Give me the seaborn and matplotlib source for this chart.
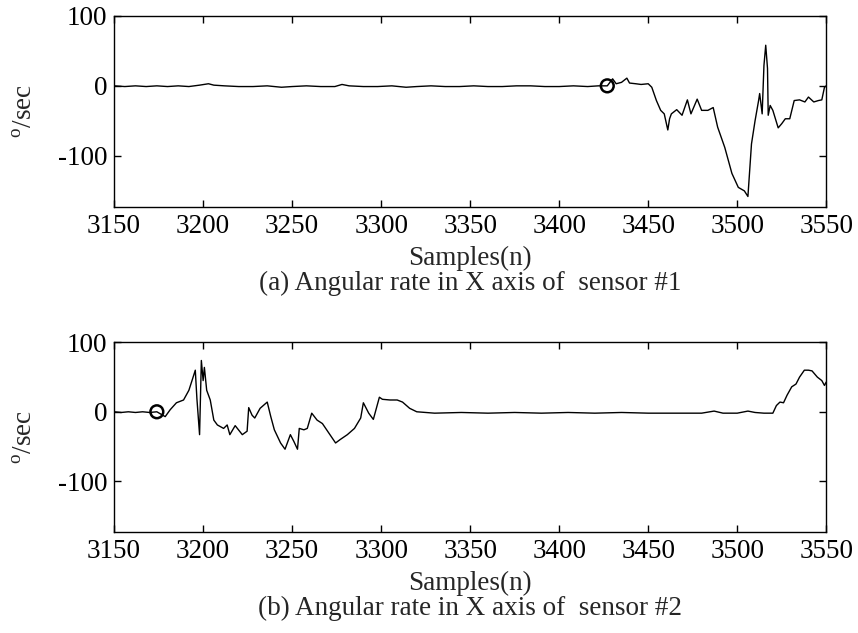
import matplotlib
matplotlib.use("Agg")
import matplotlib.pyplot as plt
import seaborn as sns
import pandas as pd

# sensor #1, angular rate X (deg/sec)
s1_samples = [3150, 3156, 3162, 3168, 3174, 3180, 3186, 3192, 3198, 3203, 3206, 3212,
              3220, 3228, 3236, 3244, 3250, 3258, 3266, 3274, 3278, 3282, 3290, 3298,
              3306, 3314, 3320, 3328, 3336, 3344, 3352, 3360, 3368, 3376, 3384, 3392,
              3400, 3408, 3416, 3422, 3427, 3430, 3432, 3435, 3438, 3439.5, 3443, 3446,
              3450, 3452, 3454.6, 3457, 3459, 3461, 3462, 3463, 3466, 3469, 3472, 3474,
              3477.5, 3480, 3483.5, 3486.5, 3489, 3493, 3497, 3500.6, 3504, 3506, 3508,
              3510, 3512, 3512.6, 3514, 3515, 3516, 3517, 3517.4, 3518.5, 3520, 3523,
              3525, 3527, 3529.5, 3532, 3535, 3538, 3540, 3543, 3545.6, 3547.5, 3549, 3550]
s1_values = [0, -1, 0, -1, 0, -1, 0, -1, 1, 3, 1, 0,
             -1, -1, 0, -2, -1, 0, -1, -1, 2, 0, -1, -1,
             0, -2, -1, 0, -1, -1, 0, -1, -1, 0, 0, -1,
             -1, 0, -1, 0, 0, 10, 3, 5, 11, 4, 3, 2,
             3, -2, -21, -35, -40, -63, -47, -40, -34, -42, -20, -40,
             -19, -35, -35, -31, -59, -88, -125, -145, -150, -158, -83,
             -50, -21, -11, -40, 29, 58, 25, -42, -28, -35, -60,
             -54, -47, -47, -21, -20, -23, -16, -23, -21, -20, -2, 0]

# sensor #2, angular rate X (deg/sec)
s2_samples = [3150, 3154, 3158, 3162, 3166, 3170, 3174, 3178.7, 3181.5, 3185, 3189, 3192,
              3194, 3195.6, 3196.5, 3198, 3199, 3200, 3200.7, 3202, 3204, 3206, 3208,
              3211.5, 3213.5, 3215, 3218, 3222, 3224.7, 3225.6, 3227.5, 3229, 3232, 3236,
              3238, 3240, 3243.5, 3246, 3249, 3251, 3253, 3254, 3256.6, 3258.5, 3261,
              3264, 3267, 3270.7, 3274.4, 3277, 3281, 3285, 3288.5, 3290, 3293, 3295.6,
              3299, 3300.7, 3305, 3309, 3312, 3316, 3320, 3330, 3345, 3360, 3375, 3390,
              3405, 3420, 3435, 3450, 3465, 3480, 3487, 3492, 3500, 3506, 3510, 3515,
              3520, 3522, 3524, 3526, 3528, 3530.6, 3533, 3535, 3537.7, 3540, 3542, 3545,
              3547.5, 3549, 3550]
s2_values = [0, -1, 0, -1, 0, -1, 0, -7, 3, 13, 17, 31,
             47, 60, 19, -33, 74, 45, 64, 31, 17, -12, -19,
             -24, -19, -33, -20, -33, -28, 6, -5, -9, 5, 14,
             -7, -26, -45, -54, -33, -43, -54, -24, -26, -24, -2,
             -12, -17, -31, -45, -40, -33, -24, -9, 13, -2, -11,
             21, 18, 17, 17, 14, 5, 0, -2, -1, -2, -1, -2,
             -1, -2, -1, -2, -2, -2, 1, -2, -2, 1, -1, -2,
             -2, 9, 14, 13, 24, 36, 40, 50, 60, 60, 59, 50,
             45, 38, 43]

markers = [(3427, 0), (3174, 0)]
captions = ["(a) Angular rate in X axis of  sensor #1",
            "(b) Angular rate in X axis of  sensor #2"]

sns.set_style("ticks")
plt.rcParams["font.family"] = ["Liberation Serif", "DejaVu Serif"]
plt.rcParams["mathtext.fontset"] = "custom"
plt.rcParams["mathtext.rm"] = "Liberation Serif"
plt.rcParams["axes.unicode_minus"] = False
fs = 19.5

fig = plt.figure(figsize=(8.58, 6.33), dpi=100)
ax1 = fig.add_axes([0.133, 0.673, 0.830, 0.302])
ax2 = fig.add_axes([0.133, 0.160, 0.830, 0.299])

series = [pd.DataFrame({"n": s1_samples, "v": s1_values}),
          pd.DataFrame({"n": s2_samples, "v": s2_values})]

for ax, df, mk, cap in zip([ax1, ax2], series, markers, captions):
    sns.lineplot(data=df, x="n", y="v", ax=ax, color="black", linewidth=1.0,
                 estimator=None, sort=False)
    sns.scatterplot(x=[mk[0]], y=[mk[1]], ax=ax, marker="o", s=85,
                    facecolor="none", edgecolor="black", linewidth=1.8, zorder=3)
    ax.set_xlim(3150, 3550)
    ax.set_ylim(-173, 100)
    ax.set_xticks(range(3150, 3551, 50))
    ax.set_yticks([-100, 0, 100])
    ax.tick_params(direction="in", top=True, right=True, length=5, width=1,
                   labelsize=fs, pad=5, colors="black")
    for sp in ax.spines.values():
        sp.set_linewidth(1.0)
        sp.set_color("black")
    ax.set_xlabel("")
    ax.set_ylabel("$^{\\mathrm{o}}$/sec", fontsize=fs)
    ax.yaxis.label.set_va("center")
    ax.yaxis.set_label_coords(-0.125, 0.5)
    ax.annotate("Samples(n)", xy=(0.5, 0), xycoords="axes fraction",
                xytext=(0, -37), textcoords="offset points",
                ha="center", va="center", fontsize=fs)
    ax.annotate(cap, xy=(0.5, 0), xycoords="axes fraction",
                xytext=(0, -55), textcoords="offset points",
                ha="center", va="center", fontsize=fs)

fig.savefig("out.png", dpi=100, facecolor="white")
